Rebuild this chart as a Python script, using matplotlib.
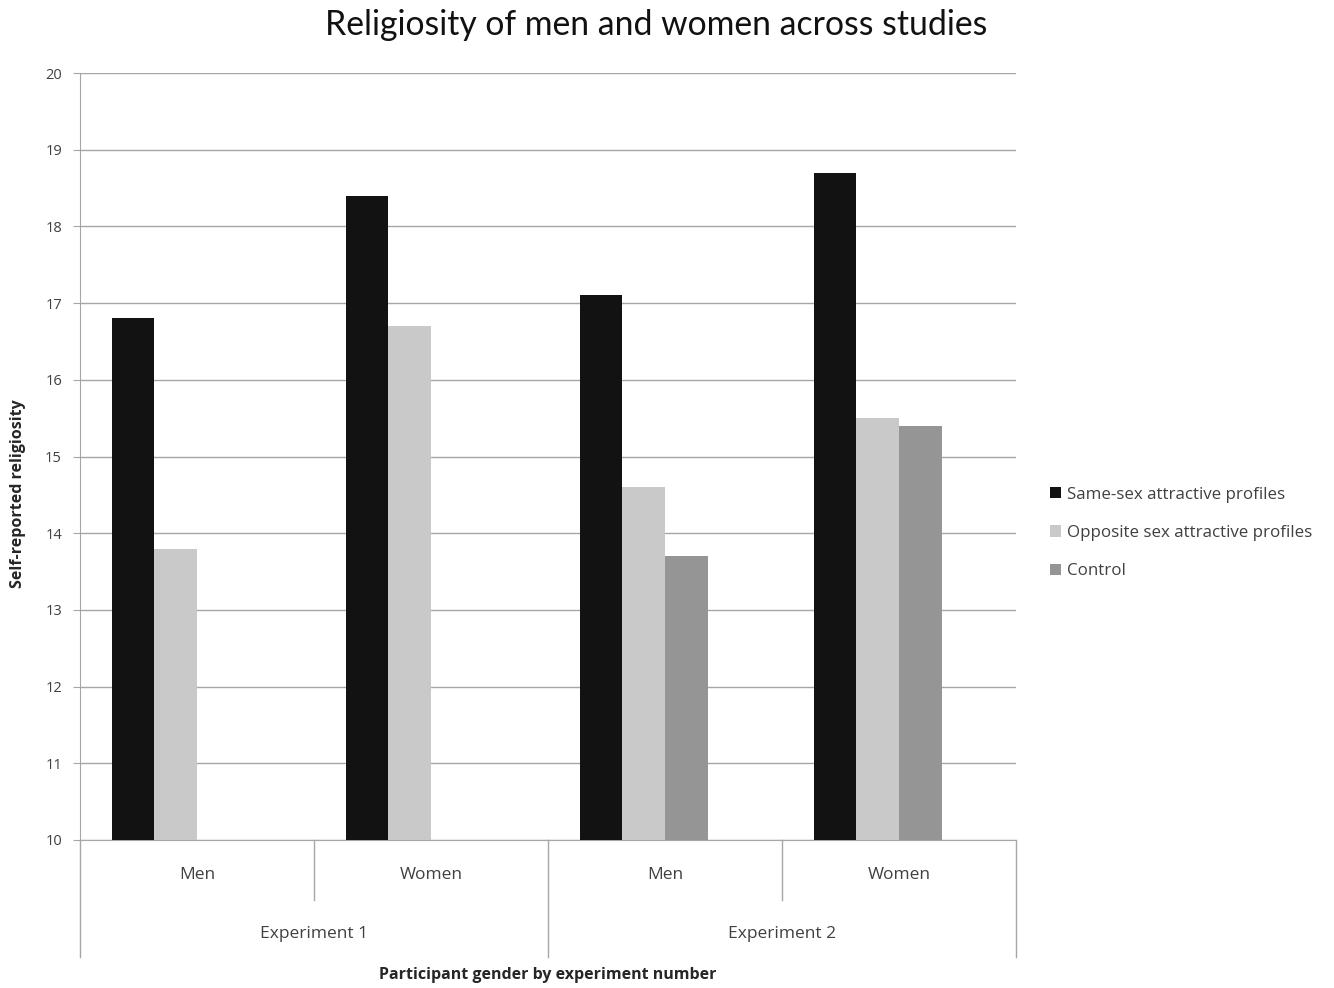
import numpy as np
import matplotlib.pyplot as plt
from matplotlib.patches import Patch

plt.rcParams['font.family'] = ['Open Sans', 'DejaVu Sans']

groups = ["Men", "Women", "Men", "Women"]
experiments = ["Experiment 1", "Experiment 2"]
series = ["Same-sex attractive profiles", "Opposite sex attractive profiles", "Control"]
same_sex = [16.8, 18.4, 17.1, 18.7]
opposite = [13.8, 16.7, 14.6, 15.5]
control = [np.nan, np.nan, 13.7, 15.4]
colors = ["#121212", "#c9c9c9", "#959595"]

fig = plt.figure(figsize=(13.34, 9.88), dpi=100, facecolor="white")
ax = fig.add_axes([0.060, 0.1498, 0.7016, 0.7763])

x = np.arange(len(groups))
w = 0.182
for k, (vals, c) in enumerate(zip([same_sex, opposite, control], colors)):
    ax.bar(x + (k - 1.5) * w + 0.5, vals, width=w, color=c, label=series[k], zorder=3)

ax.set_xlim(0, 4)
ax.set_ylim(10, 20)
ax.set_yticks(range(10, 21))
ax.yaxis.grid(True, color="#a6a6a6", linewidth=1.0, zorder=0)
ax.tick_params(axis="y", colors="#a6a6a6", labelcolor="#404040", labelsize=10.5, length=5, pad=8)
ax.tick_params(axis="x", bottom=False, labelbottom=False)
for s in ["top", "right"]:
    ax.spines[s].set_visible(False)
ax.spines["left"].set_color("#a6a6a6")
ax.spines["bottom"].set_color("#a6a6a6")

# category boxes under the axis
line_kw = dict(color="#a6a6a6", linewidth=1.0, clip_on=False)
tr = ax.get_xaxis_transform()
for i in range(5):
    bottom = -0.153 if i % 2 == 0 else -0.078
    ax.plot([i, i], [0, bottom], transform=tr, **line_kw)
for i, g in enumerate(groups):
    ax.text(i + 0.5, -0.046, g, transform=tr, ha="center", va="center",
            fontsize=12.5, color="#404040")
for j, e in enumerate(experiments):
    ax.text(2 * j + 1, -0.123, e, transform=tr, ha="center", va="center",
            fontsize=12.5, color="#404040")

ax.text(2, -0.176, "Participant gender by experiment number", transform=tr,
        ha="center", va="center", fontsize=11.5, fontweight="bold", color="#262626")
fig.text(0.0135, 0.5, "Self-reported religiosity", rotation=90, ha="center", va="center",
         fontsize=11.5, fontweight="bold", color="#262626")

fig.text(0.492, 0.975, "Religiosity of men and women across studies", ha="center", va="center",
         fontsize=24.3, color="#111111", family=["Lato", "DejaVu Sans"])

handles = [Patch(facecolor=c, label=s) for c, s in zip(colors, series)]
fig.legend(handles=handles, loc="center left", bbox_to_anchor=(0.776, 0.4605), frameon=False,
           fontsize=12.2, handlelength=0.65, handleheight=0.65, handletextpad=0.3,
           labelspacing=1.32, labelcolor="#404040")

fig.savefig("out.png", dpi=100, facecolor="white")
